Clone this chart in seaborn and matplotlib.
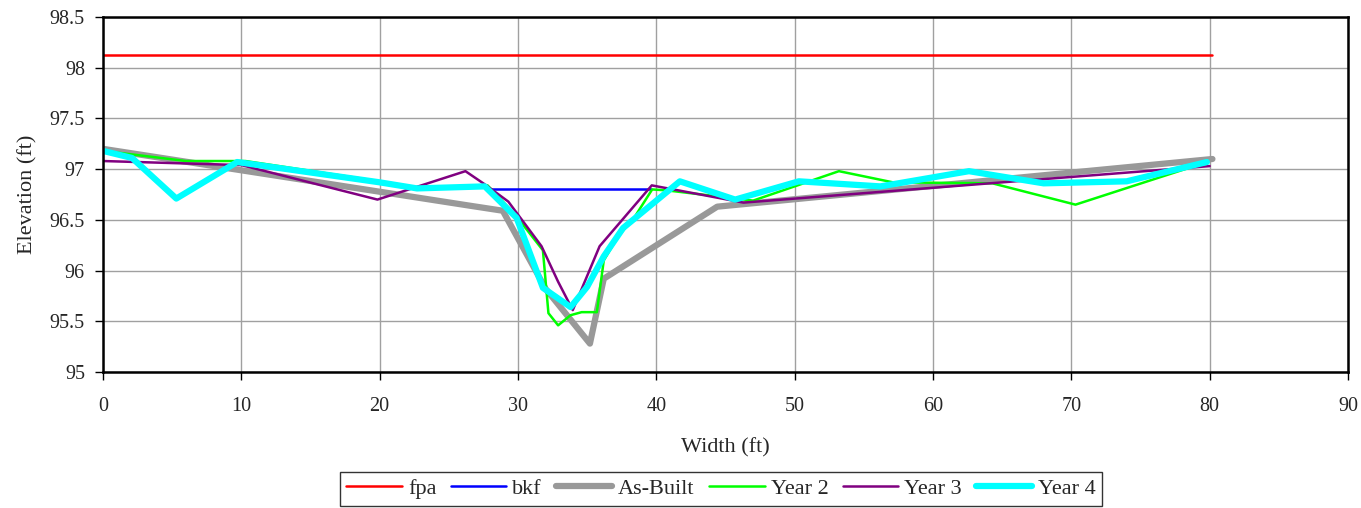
import pandas as pd
import matplotlib
matplotlib.use("Agg")
import matplotlib.pyplot as plt
import seaborn as sns

# cross-section survey (width ft, elevation ft)
fpa_x = [0, 80.2]
fpa_y = [98.13, 98.13]

bkf_x = [27.8, 39.6]
bkf_y = [96.8, 96.8]

asbuilt_x = [0, 26.5, 28.9, 32.0, 35.2, 36.2, 44.4, 80.2]
asbuilt_y = [97.2, 96.64, 96.59, 95.82, 95.28, 95.92, 96.63, 97.1]

year2_x = [0, 6, 10.3, 20, 22.7, 27.8, 29.8, 31.8, 32.2, 32.9, 33.8, 34.6, 35.7,
           36.2, 37.3, 38.3, 39.7, 40.8, 47.0, 53.2, 57.1, 64.3, 70.3, 79.8]
year2_y = [97.18, 97.08, 97.08, 96.88, 96.82, 96.84, 96.55, 96.2, 95.58, 95.46, 95.56, 95.59, 95.59,
           96.1, 96.35, 96.5, 96.8, 96.79, 96.69, 96.98, 96.87, 96.86, 96.65, 97.07]

year3_x = [0, 10, 19.84, 26.2, 27.6, 29.3, 31.7, 32.9, 33.96, 35.9, 39.67, 46.3, 80.0]
year3_y = [97.08, 97.04, 96.70, 96.98, 96.85, 96.68, 96.24, 95.89, 95.61, 96.24, 96.84, 96.67, 97.03]

year4_x = [0, 2.1, 5.3, 9.7, 20, 22.7, 27.6, 29.9, 31.8, 33.8, 35.0, 36.2, 37.6,
           41.7, 45.7, 50.3, 56.2, 62.6, 68.0, 74.0, 79.8]
year4_y = [97.18, 97.11, 96.71, 97.07, 96.87, 96.81, 96.83, 96.52, 95.83, 95.64, 95.84, 96.14, 96.42,
           96.88, 96.70, 96.88, 96.83, 96.98, 96.86, 96.88, 97.07]

series = [
    ("fpa", fpa_x, fpa_y, "#FF0000", 1.8),
    ("bkf", bkf_x, bkf_y, "#0000FF", 1.8),
    ("As-Built", asbuilt_x, asbuilt_y, "#999999", 4.5),
    ("Year 2", year2_x, year2_y, "#00FF00", 1.8),
    ("Year 3", year3_x, year3_y, "#800080", 1.8),
    ("Year 4", year4_x, year4_y, "#00FFFF", 4.5),
]

sns.set_style("white")
plt.rcParams["font.family"] = ["Liberation Serif", "DejaVu Serif"]

fig = plt.figure(figsize=(13.61, 5.08), dpi=100)
ax = fig.add_axes([103 / 1361, 1 - 372 / 508, (1348 - 103) / 1361, (372 - 17) / 508])

for name, xs, ys, col, lw in series:
    df = pd.DataFrame({"x": xs, "y": ys})
    sns.lineplot(data=df, x="x", y="y", sort=False, estimator=None, color=col,
                 linewidth=lw, label=name, ax=ax)

ax.set_xlim(0, 90)
ax.set_ylim(95, 98.5)
ax.set_xticks(range(0, 91, 10))
ax.set_yticks([95 + 0.5 * i for i in range(8)])
ax.set_yticklabels([f"{95 + 0.5 * i:g}" for i in range(8)])
ax.grid(True, color="#a0a0a0", linewidth=1)
ax.set_axisbelow(True)
for s in ax.spines.values():
    s.set_color("black")
    s.set_linewidth(1.8)
ax.tick_params(axis="both", direction="out", length=6, width=1, color="black",
               labelsize=14.5, bottom=True, left=True)
ax.tick_params(axis="x", pad=12)
ax.tick_params(axis="y", pad=7)
ax.set_xlabel("Width (ft)", fontsize=16, labelpad=16)
ax.set_ylabel("Elevation (ft)", fontsize=16, labelpad=9)

ax.get_legend().remove()
handles, labels = ax.get_legend_handles_labels()
leg = fig.legend(handles, labels, loc="upper center", bbox_to_anchor=(721 / 1361, 1 - 472 / 508),
                 ncol=6, fontsize=16, frameon=True, fancybox=False, edgecolor="black",
                 handlelength=2.5, handletextpad=0.27, columnspacing=0.65, borderpad=0.3,
                 borderaxespad=0)
leg.get_frame().set_linewidth(1)

fig.savefig("out.png", dpi=100)
